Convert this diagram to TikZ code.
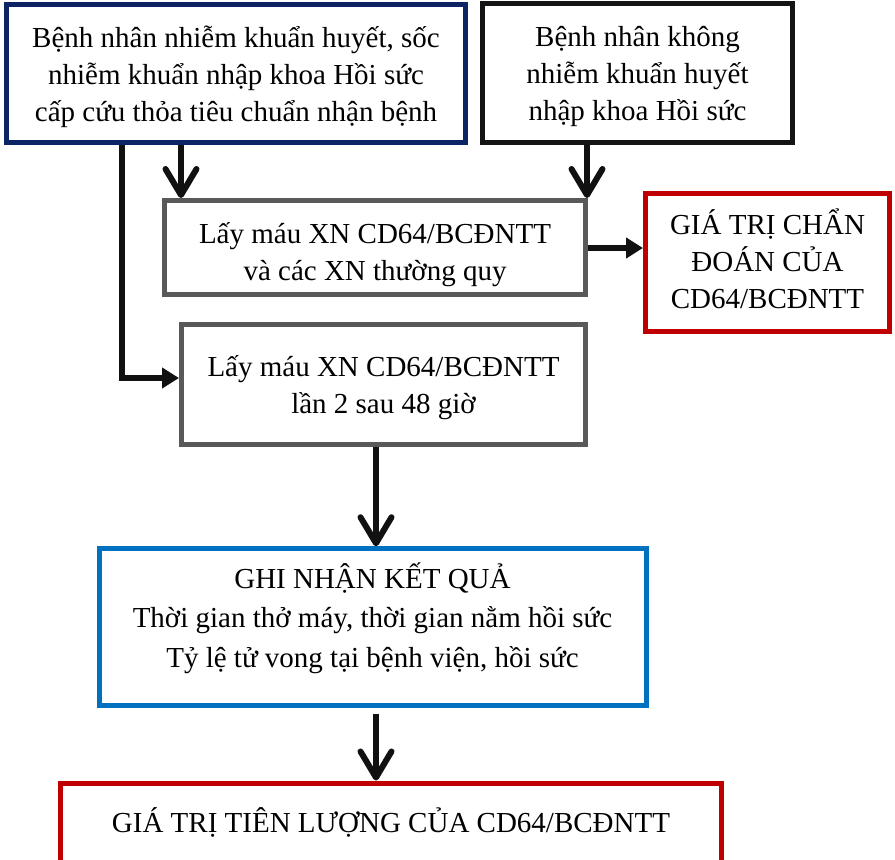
\documentclass[tikz,border=0pt]{standalone}
\usepackage{fontspec}
\setmainfont{Liberation Serif}
\usetikzlibrary{arrows.meta}
\definecolor{navyc}{RGB}{12,35,100}
\definecolor{blackc}{RGB}{20,20,20}
\definecolor{grayc}{RGB}{89,89,89}
\definecolor{redc}{RGB}{192,0,0}
\definecolor{bluec}{RGB}{0,112,192}
\definecolor{arrowc}{RGB}{17,17,17}
\begin{document}
\begin{tikzpicture}[x=1pt,y=-1pt,
  box/.style={draw, rectangle, line width=5pt, inner sep=0pt},
  txt/.style={inner sep=0pt, align=center, font=\fontsize{29}{37}\selectfont, text=black},
  txtw/.style={txt, font=\fontsize{29}{39.5}\selectfont},
  varrow/.style={line width=6pt, draw=arrowc, -{Straight Barb[length=26pt,width=31pt,round]}},
  harrow/.style={line width=6pt, draw=arrowc, -{Triangle[length=17pt,width=20pt]}}
]
\clip (0,0) rectangle (895,860);
\fill[white] (0,0) rectangle (895,860);

% boxes
\node[box, draw=navyc, minimum width=459pt, minimum height=138pt] (A) at (236,73.5) {};
\node[box, draw=blackc, minimum width=310pt, minimum height=138.5pt] (B) at (637.5,73) {};
\node[box, draw=grayc, minimum width=421.5pt, minimum height=94pt] (C) at (375,247.5) {};
\node[box, draw=redc, minimum width=244pt, minimum height=138pt] (D) at (767.5,262.5) {};
\node[box, draw=grayc, minimum width=404pt, minimum height=120pt] (E) at (383.5,384.5) {};
\node[box, draw=bluec, minimum width=547pt, minimum height=156.5pt] (F) at (372.5,627) {};
\node[box, draw=redc, minimum width=661pt, minimum height=116pt] (G) at (391,841) {};

% texts
\node[txt] (At) at (236,76.5)
  {Bệnh nhân nhiễm khuẩn huyết, sốc\\ nhiễm khuẩn nhập khoa Hồi sức\\ cấp cứu thỏa tiêu chuẩn nhận bệnh};
\node[txt] (Bt) at (637.5,76)
  {Bệnh nhân không\\ nhiễm khuẩn huyết\\ nhập khoa Hồi sức};
\node[txt] (Ct) at (375,254.5)
  {Lấy máu XN CD64/BCĐNTT\\ và các XN thường quy};
\node[txt] (Dt) at (767.5,258.5)
  {GIÁ TRỊ CHẨN\\ ĐOÁN CỦA\\ CD64/BCĐNTT};
\node[txt] (Et) at (383.5,387.5)
  {Lấy máu XN CD64/BCĐNTT\\ lần 2 sau 48 giờ};
\node[txtw] (Ft) at (372.5,618)
  {GHI NHẬN KẾT QUẢ\\ Thời gian thở máy, thời gian nằm hồi sức\\ Tỷ lệ tử vong tại bệnh viện, hồi sức};
\node[txt] (Gt) at (391,822) {GIÁ TRỊ TIÊN LƯỢNG CỦA CD64/BCĐNTT};

% connectors
\coordinate (xa) at (181,0);
\coordinate (xl) at (122,0);
\coordinate (xb) at (587,0);
\coordinate (xm) at (376,0);
\coordinate (ym) at (0,378);
\coordinate (yc) at (0,248);

\draw[varrow] (A.south -| xa) -- (C.north -| xa);
\draw[varrow] (B.south -| xb) -- (C.north -| xb);
\draw[harrow] (A.south -| xl) |- (E.west |- ym);
\draw[harrow] (C.east |- yc) -- (D.west |- yc);
\draw[varrow] (E.south -| xm) -- (F.north -| xm);
\draw[varrow, shorten <=6pt] (F.south -| xm) -- (G.north -| xm);
\end{tikzpicture}
\end{document}
